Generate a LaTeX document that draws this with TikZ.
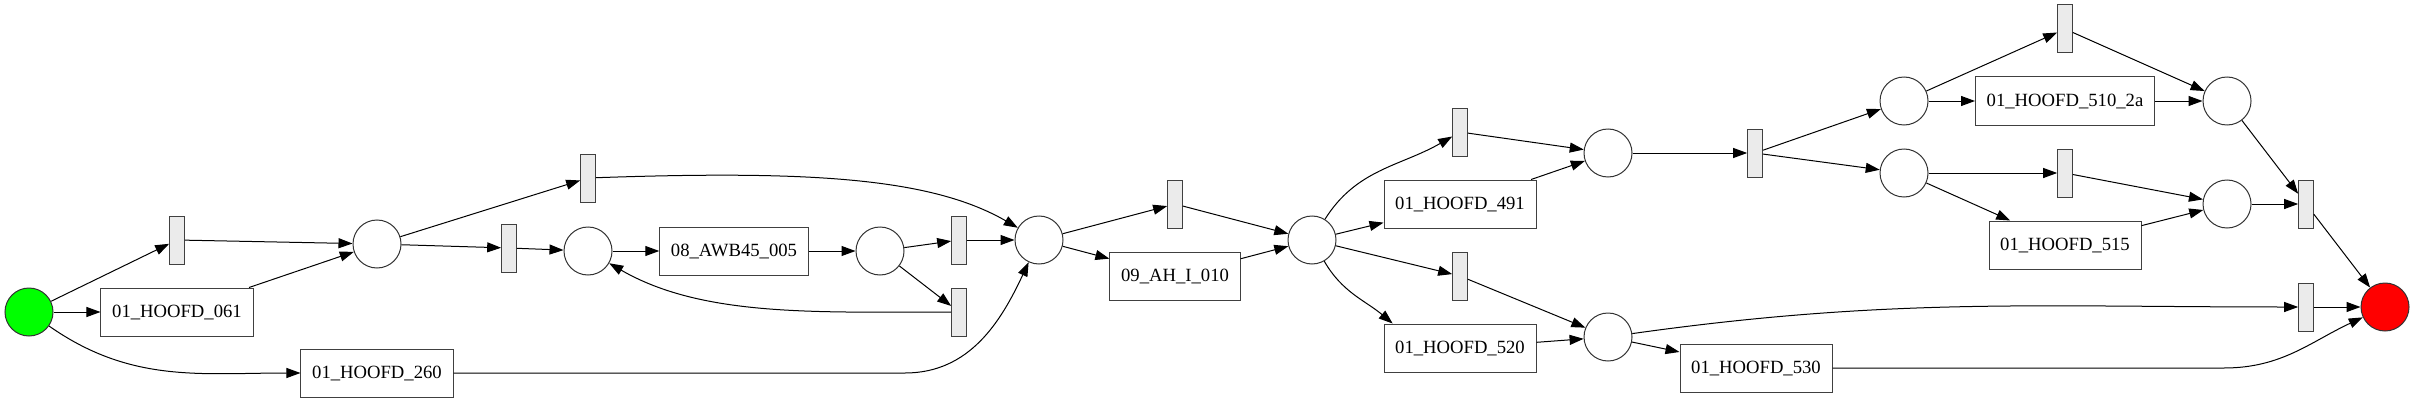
\documentclass[tikz,border=0pt]{standalone}
\usepackage{fontspec}
\setmainfont{Liberation Serif}
\usetikzlibrary{arrows.meta}
\tikzset{>={Triangle[length=10.5pt,width=7.5pt]}}
\tikzset{
  place/.style={circle,draw=black!80,minimum size=36pt,inner sep=0pt},
  trans/.style={rectangle,draw=black!75,fill=black!8,minimum width=11pt,minimum height=36pt,inner sep=0pt},
  task/.style={rectangle,draw=black!75,minimum height=36pt,inner xsep=8.4pt,inner ysep=0pt,font=\fontsize{14}{16}\selectfont}
}

\begin{document}
\begin{tikzpicture}[x=0.75pt,y=0.75pt,line width=0.75pt]
            \useasboundingbox (0,0) rectangle (2415,-403);
            \node[place,fill=green] (pin) at (29,-312) {}; %initial
            \node[trans] (t1) at (177,-240) {};
            \node[task] (h061) at (177,-312) {01\_HOOFD\_061};
            \node[task] (h260) at (377,-373) {01\_HOOFD\_260};
            \node[place] (p1) at (377,-244) {};
            \node[trans] (t2) at (588,-178) {};
            \node[trans] (t3) at (509,-248) {};
            \node[place] (p2) at (588,-251) {};
            \node[task] (a005) at (734,-251) {08\_AWB45\_005};
            \node[place] (p3) at (880,-251) {};
            \node[trans] (t4) at (959,-240) {};
            \node[trans] (t5) at (959,-312) {};
            \node[place] (p4) at (1039,-240) {};
            \node[trans] (t6) at (1175,-204) {};
            \node[task] (a010) at (1175,-276) {09\_AH\_I\_010};
            \node[place] (p5) at (1312,-240) {};
            \node[trans] (t7) at (1460,-132) {};
            \node[task] (h491) at (1460,-204) {01\_HOOFD\_491};
            \node[trans] (t8) at (1460,-276) {};
            \node[task] (h520) at (1460,-348) {01\_HOOFD\_520};
            \node[place] (p6) at (1608,-153) {};
            \node[place] (p7) at (1608,-337) {};
            \node[trans] (t9) at (1755,-153) {};
            \node[task] (h530) at (1756,-368) {01\_HOOFD\_530};
            \node[place] (p8) at (1904,-101) {};
            \node[place] (p9) at (1904,-173) {};
            \node[trans] (t10) at (2065,-29) {};
            \node[task] (h510) at (2065,-101) {01\_HOOFD\_510\_2a};
            \node[trans] (t11) at (2065,-173) {};
            \node[task] (h515) at (2065,-245) {01\_HOOFD\_515};
            \node[place] (p10) at (2227,-101) {};
            \node[place] (p11) at (2227,-204) {};
            \node[trans] (t12) at (2306,-204) {};
            \node[trans] (t13) at (2306,-307) {};
            \node[place,fill=red] (pout) at (2385,-307) {}; %final
            \path[->] (pin) edge (t1)
                      (pin) edge (h061)
                      (pin) edge [out=-35,in=180] (h260)
                      (t1) edge (p1)
                      (h061) edge (p1)
                      (p1) edge (t2)
                      (p1) edge (t3)
                      (t3) edge (p2)
                      (p2) edge (a005)
                      (a005) edge (p3)
                      (p3) edge (t4)
                      (p3) edge (t5)
                      (t4) edge (p4)
                      (t5) edge [out=180,in=-30,in looseness=0.8] (p2)
                      (t2) edge [out=2,in=150,out looseness=1.3,in looseness=0.6] (p4)
                      (p4) edge (t6)
                      (p4) edge (a010)
                      (t6) edge (p5)
                      (a010) edge (p5)
                      (p5) edge [out=58,in=-150] (t7)
                      (p5) edge (h491)
                      (p5) edge (t8)
                      (p5) edge [out=-60,in=140] (h520.160)
                      (t7) edge (p6)
                      (h491) edge (p6)
                      (t8) edge (p7)
                      (h520) edge (p7)
                      (p6) edge (t9)
                      (t9) edge (p8)
                      (t9) edge (p9)
                      (p8) edge (t10)
                      (p8) edge (h510)
                      (t10) edge (p10)
                      (h510) edge (p10)
                      (p9) edge (t11)
                      (p9) edge (h515)
                      (t11) edge (p11)
                      (h515) edge (p11)
                      (p10) edge (t12)
                      (p11) edge (t12)
                      (t12) edge (pout)
                      (p7) edge [out=8,in=180] (t13)
                      (p7) edge (h530)
                      (t13) edge (pout);
            % long runs that bend only at the end
            \draw[->] (h260) -- ++(528,0) to[out=0,in=-115] (p4);
            \draw[->] (h530) -- ++(468,0) to[out=0,in=-155] (pout);
\end{tikzpicture}
\end{document}
